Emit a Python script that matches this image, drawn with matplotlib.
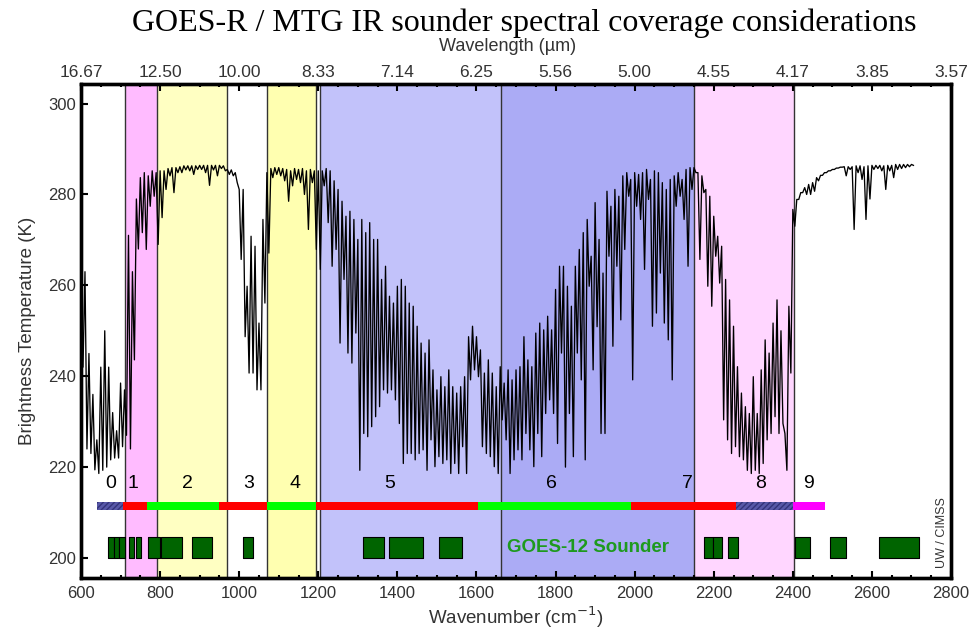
import matplotlib
matplotlib.use("Agg")
import matplotlib.pyplot as plt
import numpy as np

plt.rcParams['font.family'] = ['Liberation Sans', 'DejaVu Sans']

# spectrum: upper / lower envelope every 10 cm-1 (600..2700)
wavenumber = np.arange(600, 2701, 10)
bt_hi = [
    266, 263, 245, 236, 226, 242, 250, 242, 232, 228,
    238.5, 237, 271, 263, 279, 283.7, 284.8, 284.1, 285.2, 284.8,
    285.2, 285.2, 285.7, 285.9, 285.9, 286.1, 286.3, 286.3, 286.3, 286.3,
    286.4, 286.4, 286.4, 286.4, 286.4, 286.4, 286.3, 285.5, 285.4, 284.8,
    281.1, 281.1, 259.8, 270.8, 268.6, 251.7, 274.5, 284.8, 285.7, 285.9,
    285.9, 285.7, 285.5, 285.2, 285.7, 285.5, 285.7, 285.2, 285.5, 285.2,
    285.2, 285.2, 285.7, 285.2, 283.0, 281.1, 278.5, 275.2, 276.3, 274.5,
    270.1, 274.5, 271.6, 273.8, 270.1, 270.1, 261.3, 264.2, 257.6, 256.1,
    259.8, 261.3, 259.8, 256.1, 255.4, 251.0, 247.3, 245.1, 248.0, 241.4,
    237.0, 239.9, 237.7, 241.4, 237.7, 236.3, 237.7, 239.9, 248.7, 251.0,
    248.7, 245.8, 240.7, 243.6, 240.7, 237.7, 242.1, 238.5, 241.4, 239.2,
    241.4, 242.1, 248.7, 243.6, 242.1, 249.5, 251.7, 250.2, 253.2, 250.2,
    259.1, 264.2, 264.2, 259.8, 255.4, 264.2, 267.9, 271.6, 274.5, 266.4,
    278.2, 270.1, 262.7, 280.7, 277.4, 281.1, 279.6, 284.1, 284.8, 283.3,
    284.8, 284.4, 284.8, 285.5, 283.3, 285.2, 284.8, 282.6, 281.1, 283.3,
    284.1, 284.8, 283.3, 285.5, 285.9, 285.9, 284.8, 284.1, 281.1, 279.6,
    275.2, 270.8, 268.6, 261.3, 256.8, 251.0, 242.1, 236.3, 233.3, 231.8,
    239.9, 231.8, 241.4, 248.0, 245.1, 251.7, 256.8, 250.0, 227.4, 255.4,
    276.7, 278.9, 280.4, 281.5, 282.2, 282.6, 283.7, 284.2, 284.8, 285.2,
    285.5, 285.8, 286.0, 286.1, 286.1, 286.1, 286.3, 286.3, 286.1, 286.3,
    286.4, 286.4, 286.4, 286.3, 286.4, 286.4, 286.6, 286.6, 286.6, 286.6,
    286.6,
]
bt_lo = [
    242, 224, 223, 219.4, 218.6, 219.3, 220, 221.6, 222, 222,
    224.5, 227, 224, 243.6, 268, 271.6, 267.9, 277.4, 279.6, 269,
    274.9, 281.1, 284.1, 280.4, 284.8, 284.8, 285.4, 285.2, 284.4, 285.5,
    285.5, 284.8, 282.0, 285.4, 284.1, 285.7, 285.2, 284.4, 284.1, 282.6,
    265.7, 248.7, 240.7, 240.7, 237.0, 237.0, 256.1, 267.1, 283.7, 284.4,
    284.1, 283.0, 278.5, 281.9, 283.3, 282.6, 280.0, 272.3, 282.6, 267.9,
    263.5, 281.9, 273.8, 264.2, 267.9, 247.3, 261.3, 245.1, 242.9, 249.5,
    219.3, 227.4, 226.7, 228.9, 231.1, 233.3, 237.0, 236.3, 237.0, 234.8,
    229.6, 220.8, 223.0, 223.0, 221.6, 223.0, 223.8, 219.3, 226.0, 220.1,
    222.3, 220.8, 221.6, 218.6, 220.8, 218.6, 224.5, 218.6, 239.2, 241.4,
    239.9, 224.5, 223.0, 222.3, 220.1, 218.6, 230.4, 226.0, 218.6, 221.6,
    223.8, 221.6, 227.4, 223.8, 220.1, 227.4, 222.3, 231.8, 234.8, 231.8,
    225.2, 245.1, 220.0, 231.8, 222.3, 245.1, 239.2, 221.6, 259.8, 241.4,
    250.9, 227.4, 227.4, 266.4, 246.6, 264.2, 252.4, 267.9, 279.6, 239.2,
    277.4, 274.5, 263.5, 278.9, 251.0, 253.9, 262.7, 251.7, 248.0, 239.2,
    277.4, 279.6, 274.5, 264.2, 281.1, 284.8, 265.7, 280.4, 259.8, 255.4,
    266.4, 260.5, 230.4, 226.0, 223.0, 224.5, 222.3, 221.6, 219.3, 218.6,
    219.3, 218.6, 220.8, 226.0, 227.4, 231.1, 227.4, 229.6, 219.3, 240.7,
    273.0, 278.9, 280.4, 280.0, 280.0, 280.7, 283.0, 284.2, 284.8, 285.2,
    285.5, 285.8, 286.0, 284.1, 285.5, 272.3, 284.8, 283.3, 274.5, 279.0,
    285.5, 285.7, 285.2, 281.1, 285.2, 283.7, 285.5, 285.7, 285.9, 286.1,
    286.4,
]

# shaded spectral regions
region_start = [712, 792, 1070, 1205, 1662, 2150]
region_end = [792, 970, 1195, 1662, 2150, 2402]
region_color = ['#FFBBFF', '#FFFFC2', '#FFFFB0', '#C2C2FA', '#ABABF5', '#FFD6FF']
band_edges = [712, 792, 970, 1070, 1195, 1205, 1662, 2150, 2402]

# band numbers
band_labels = ['0', '1', '2', '3', '4', '5', '6', '7', '8', '9']
band_label_x = [675, 732, 868, 1023, 1142, 1380, 1789, 2134, 2318, 2439]

# coloured coverage bar
bar_start = [641, 705, 766, 949, 1071, 1194, 1603, 1992, 2257, 2401]
bar_end = [705, 766, 949, 1071, 1194, 1603, 1992, 2257, 2401, 2482]
bar_color = ['blue', 'red', 'lime', 'red', 'lime', 'red', 'lime', 'red', 'blue', 'magenta']

# GOES-12 sounder channels
goes_start = [669, 683, 697, 721, 738, 770, 801, 880, 1010, 1312, 1380, 1506,
              2175, 2198, 2236, 2405, 2494, 2618]
goes_end = [683, 697, 710, 733, 751, 799, 855, 930, 1036, 1367, 1466, 1563,
            2198, 2221, 2262, 2443, 2534, 2718]

fig = plt.figure(figsize=(9.75, 6.34), dpi=100)
ax = fig.add_axes([0.0831, 0.0883, 0.8923, 0.7792])

for s, e, c in zip(region_start, region_end, region_color):
    ax.axvspan(s, e, color=c, lw=0, zorder=0)
for x in band_edges:
    ax.axvline(x, color='#333333', lw=1.0, zorder=1)

x_zig = np.column_stack([wavenumber, wavenumber + 5]).ravel()
y_zig = np.column_stack([bt_hi, bt_lo]).ravel()
ax.plot(x_zig, y_zig, color='black', lw=0.95, zorder=3)

for s, e, c in zip(bar_start, bar_end, bar_color):
    if c == 'blue':
        ax.broken_barh([(s, e - s)], (210.6, 1.8), facecolor='#5858A8',
                       edgecolor='#33337A', hatch='//////', lw=0, zorder=4)
    else:
        ax.broken_barh([(s, e - s)], (210.6, 1.8), facecolor=c, lw=0, zorder=4)

for s, e in zip(goes_start, goes_end):
    ax.broken_barh([(s, e - s)], (200.0, 4.7), facecolor='#006400',
                   edgecolor='black', lw=0.8, zorder=4)

for lab, x in zip(band_labels, band_label_x):
    ax.text(x, 216.5, lab, fontsize=14, ha='center', va='center', zorder=5)

ax.text(1881, 202.4, 'GOES-12 Sounder', color='#1E9A1E', fontsize=13.5,
        fontweight='bold', ha='center', va='center', zorder=5)
ax.text(2776, 205.5, 'UW / CIMSS', rotation=90, fontsize=9, color='#333333',
        ha='center', va='center')

ax.set_xlim(600, 2800)
ax.set_ylim(195.6, 304.3)
ax.set_xticks(np.arange(600, 2801, 200))
ax.set_xticks(np.arange(600, 2801, 50), minor=True)
ax.set_yticks(np.arange(200, 301, 20))
ax.tick_params(axis='both', which='both', direction='in', width=1.5,
               labelsize=12, labelcolor='#333333')
ax.tick_params(axis='both', which='major', length=5)
ax.tick_params(axis='both', which='minor', length=2.5)
ax.tick_params(axis='x', pad=6)
for sp in ax.spines.values():
    sp.set_linewidth(2.4)

ax.set_xlabel('Wavenumber (cm$^{-1}$)', fontsize=13.5, color='#333333', labelpad=2)
ax.set_ylabel('Brightness Temperature (K)', fontsize=13.5, color='#333333', labelpad=9)

top = ax.twiny()
top.set_xlim(ax.get_xlim())
top_ticks = np.arange(600, 2801, 200)
top.set_xticks(top_ticks)
top.set_xticklabels(['%.2f' % (10000.0 / t) for t in top_ticks])
top.set_xticks(np.arange(600, 2801, 50), minor=True)
top.tick_params(axis='x', which='both', direction='in', width=1.5,
                labelsize=12.5, labelcolor='#333333', pad=3)
top.tick_params(axis='x', which='major', length=5)
top.tick_params(axis='x', which='minor', length=2.5)
for sp in top.spines.values():
    sp.set_linewidth(2.4)

fig.text(0.521, 0.926, 'Wavelength (\u00b5m)', fontsize=13, color='#333333',
         ha='center', va='center')
fig.text(0.538, 0.963, 'GOES-R / MTG IR sounder spectral coverage considerations',
         fontsize=23, family=['Liberation Serif', 'DejaVu Serif'],
         ha='center', va='center')

fig.savefig('out.png', dpi=100)
